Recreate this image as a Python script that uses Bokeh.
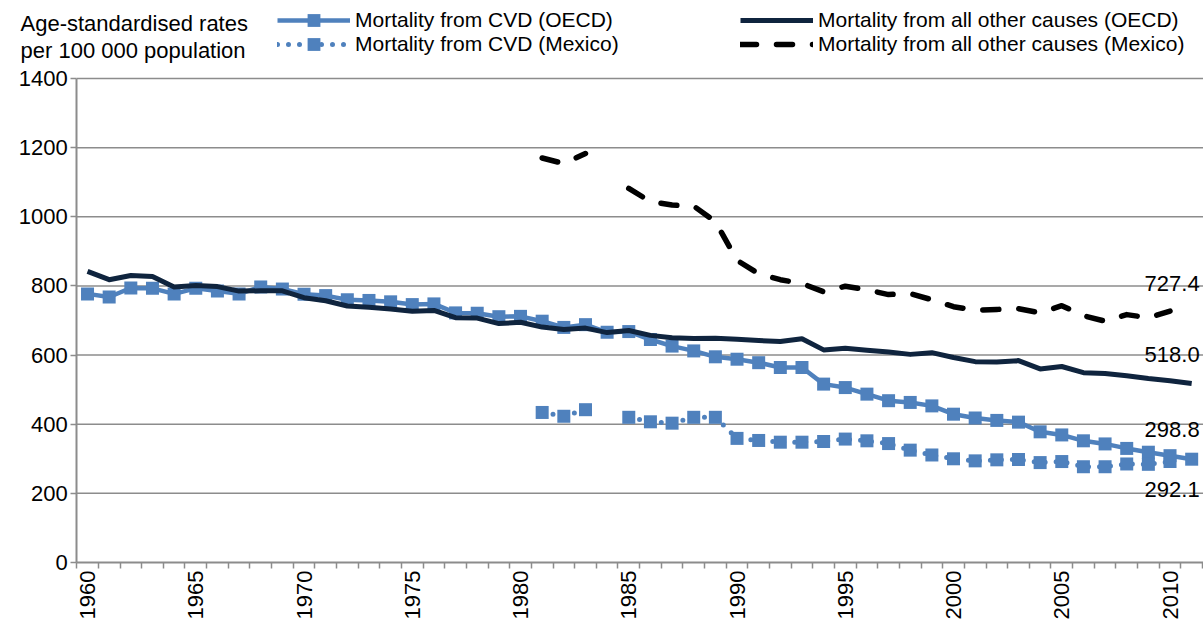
import math
import numpy as np
from bokeh.plotting import figure
from bokeh.models import Range1d, FixedTicker, Legend, LegendItem, Label, ColumnDataSource
from bokeh.core.properties import value
from bokeh.embed import file_html
from bokeh.resources import INLINE

FONT = "Liberation Sans"

years = list(range(1960, 2012))
label_years = list(range(1960, 2011, 5))
y_ticks = list(range(0, 1401, 200))

cvd_oecd = [777, 768, 794, 793, 777, 793, 785, 777, 797, 791,
            776, 772, 760, 758, 754, 746, 748, 722, 721, 711,
            712, 698, 680, 688, 666, 668, 645, 626, 612, 595,
            588, 578, 564, 564, 516, 506, 487, 468, 463, 453,
            429, 418, 411, 406, 378, 369, 352, 343, 330, 319,
            309, 298.8]

other_oecd = [842, 818, 830, 827, 797, 801, 798, 785, 786, 786,
              766, 757, 742, 738, 733, 727, 729, 708, 707, 691,
              695, 681, 674, 678, 665, 671, 657, 650, 648, 649,
              646, 642, 639, 647, 615, 620, 614, 609, 602, 607,
              593, 581, 580, 584, 560, 567, 549, 547, 540, 532,
              526, 518.0]

cvd_mexico = [None] * 21 + [434, 423, 442, None, 420, 407, 403, 420, 420,
                            359, 353, 348, 348, 350, 357, 352, 344, 325, 311,
                            300, 294, 297, 298, 289, 292, 277, 277, 285, 284,
                            292.1, None]

other_mexico = [None] * 21 + [1170, 1154, 1183, None, 1082, 1044, 1034, 1031, 986,
                              874, 835, 818, 807, 783, 799, 789, 775, 778, 760,
                              740, 730, 732, 734, 722, 743, 714, 698, 717, 708,
                              727.4, None]

names = ["Mortality from CVD (OECD)", "Mortality from CVD (Mexico)",
         "Mortality from all other causes (OECD)", "Mortality from all other causes (Mexico)"]
axis_title = ["Age-standardised rates", "per 100 000 population"]


def arr(v):
    return np.array([np.nan if x is None else x for x in v], dtype=float)


src = ColumnDataSource(dict(year=years, cvd_oecd=arr(cvd_oecd), other_oecd=arr(other_oecd),
                            cvd_mexico=arr(cvd_mexico), other_mexico=arr(other_mexico)))

BLUE = "#4F81BD"
NAVY = "#0F243E"
GRID = "#8C8C8C"

# layout in pixels
W, H = 1203, 622
AX_X = 76.2          # pixel of the y axis (left edge of first category)
PX_YEAR = 21.65      # pixels per category
Y1400, Y0 = 78, 562  # pixel rows of 1400 and 0

x_lo = years[0] - 0.5
x_start = x_lo - AX_X / PX_YEAR
x_end = x_lo + (W - AX_X) / PX_YEAR
per_px = 1400 / (Y0 - Y1400)
y_start = -(H - Y0) * per_px
y_end = 1400 + Y1400 * per_px

p = figure(width=W, height=H, output_backend="svg", toolbar_location=None,
           x_range=Range1d(x_start, x_end), y_range=Range1d(y_start, y_end),
           min_border_left=0, min_border_top=0, min_border_right=0, min_border_bottom=0)
p.outline_line_color = None
p.xgrid.grid_line_color = None
p.ygrid.grid_line_color = None

# horizontal gridlines starting at the y axis
grid_y = y_ticks[1:]
p.segment(x0=[x_lo] * len(grid_y), x1=[x_end] * len(grid_y), y0=grid_y, y1=grid_y,
          line_color=GRID, line_width=1.5)

STYLES = [
    dict(line_color=BLUE, line_width=4.5),
    dict(line_color=BLUE, line_width=5, line_dash="0 11", line_cap="round"),
    dict(line_color=NAVY, line_width=5, line_join="round"),
    dict(line_color="black", line_width=5.5, line_dash="16 20", line_cap="round", line_join="round"),
]
SQ = dict(marker="square", size=13, fill_color=BLUE, line_color=None)

r0 = p.line("year", "cvd_oecd", source=src, **STYLES[0])
s0 = p.scatter("year", "cvd_oecd", source=src, **SQ)
r1 = p.line("year", "cvd_mexico", source=src, **STYLES[1])
s1 = p.scatter("year", "cvd_mexico", source=src, **SQ)
r2 = p.line("year", "other_oecd", source=src, **STYLES[2])
r3 = p.line("year", "other_mexico", source=src, **STYLES[3])

# end-value labels
end_vals, end_offs = [], []
for series, off in [(other_mexico, -28), (other_oecd, -29), (cvd_oecd, -30), (cvd_mexico, 28)]:
    last = [v for v in series if v is not None][-1]
    end_vals.append(last)
    end_offs.append(off)
lab_src = ColumnDataSource(dict(x=[years[-1]] * 4, y=end_vals,
                                t=[f"{v:.1f}" for v in end_vals], off=end_offs))
p.text("x", "y", text="t", source=lab_src, text_align="right", text_baseline="middle",
       x_offset=8, y_offset="off", text_font=value(FONT), text_font_size="22px", text_color="black")

# y axis drawn at the left edge of the first category
p.yaxis.fixed_location = x_lo
p.yaxis.bounds = (0, 1400)
p.yaxis.ticker = FixedTicker(ticks=y_ticks)
p.yaxis.axis_line_color = GRID
p.yaxis.axis_line_width = 2
p.yaxis.major_tick_line_color = GRID
p.yaxis.major_tick_line_width = 1.5
p.yaxis.major_tick_out = 6
p.yaxis.major_tick_in = 0
p.yaxis.minor_tick_line_color = None
p.yaxis.major_label_standoff = 3
p.yaxis.major_label_text_font = FONT
p.yaxis.major_label_text_font_size = "22px"
p.yaxis.major_label_text_color = "black"

# x axis drawn at y = 0
p.xaxis.fixed_location = 0
p.xaxis.bounds = (x_lo, x_end)
p.xaxis.ticker = FixedTicker(ticks=label_years, minor_ticks=[y - 0.5 for y in years] + [years[-1] + 0.5])
p.xaxis.axis_line_color = GRID
p.xaxis.axis_line_width = 2
p.xaxis.major_tick_line_color = None
p.xaxis.major_tick_out = 0
p.xaxis.major_tick_in = 0
p.xaxis.minor_tick_line_color = GRID
p.xaxis.minor_tick_line_width = 1.5
p.xaxis.minor_tick_out = 6
p.xaxis.minor_tick_in = 0
p.xaxis.major_label_orientation = math.pi / 2
p.xaxis.major_label_standoff = 2
p.xaxis.major_label_text_font = FONT
p.xaxis.major_label_text_font_size = "22px"
p.xaxis.major_label_text_color = "black"

# axis title (top-left), screen units relative to the frame (bottom-left origin)
for txt, row in zip(axis_title, [23, 50]):
    p.add_layout(Label(x=20, y=H - row, x_units="screen", y_units="screen", text=txt,
                       text_font=FONT, text_font_size="22px",
                       text_baseline="middle", text_color="black"))

# legend: four single-entry legends laid out as two columns
renderer_sets = [[r0, s0], [r1, s1], [r2], [r3]]
positions = [(277, 20), (277, 44), (740, 20), (740, 44)]   # glyph start x, row centre y
for name, rs, (gx, cy) in zip(names, renderer_sets, positions):
    lg = Legend(items=[LegendItem(label=name, renderers=rs)],
                location=(gx, H - (cy + 16)), orientation="vertical",
                glyph_width=73, glyph_height=32, spacing=0, padding=0, margin=0,
                label_standoff=5, label_text_font=FONT, label_text_font_size="21px",
                label_text_color="black", border_line_color=None, background_fill_alpha=0)
    p.add_layout(lg)

open("out.html", "w").write(file_html(p, INLINE))
